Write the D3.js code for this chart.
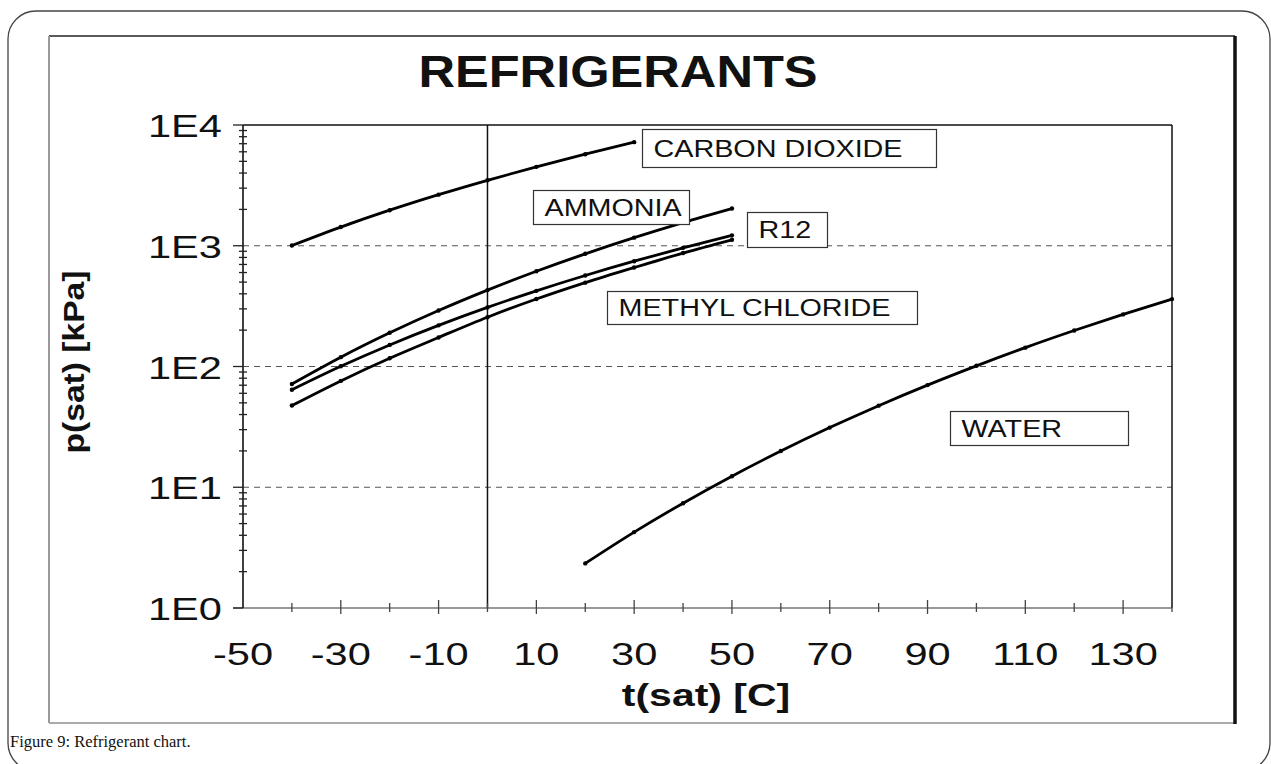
<html>
<head>
<style>
  body { margin: 0; background: white; }
  svg { display: block; }
  text { font-family: "Liberation Sans", Arial, Helvetica, sans-serif; fill: #111; }
</style>
<script src="https://cdn.jsdelivr.net/npm/d3@7"></script>
</head>
<body>
<svg id="chart" width="1271" height="764"></svg>
<script>
// saturation pressure, kPa
const refrigT = [-40, -30, -20, -10, 0, 10, 20, 30, 40, 50]
const ammonia = [71.7, 119.5, 190.2, 290.9, 429.4, 615.2, 857.5, 1167, 1555, 2033]
const r12 = [64.2, 100.4, 150.9, 219.1, 308.6, 423.3, 567.3, 744.9, 960.7, 1219]
const methylChloride = [47.5, 76, 117, 174, 256, 362, 495, 660, 870, 1120]
const co2T = [-40, -30, -20, -10, 0, 10, 20, 30]
const co2 = [1005, 1428, 1970, 2649, 3485, 4502, 5729, 7214]
const waterT = [20, 30, 40, 50, 60, 70, 80, 90, 100, 110, 120, 130, 140]
const water = [2.34, 4.25, 7.38, 12.35, 19.94, 31.19, 47.39, 70.14, 101.3, 143.3, 198.5, 270.1, 361.5]

const xTickLabels = [-50, -30, -10, 10, 30, 50, 70, 90, 110, 130]
const yTickLabels = ["1E0", "1E1", "1E2", "1E3", "1E4"]
const yDecades = [1, 10, 100, 1000, 10000]

const labelNames = ["CARBON DIOXIDE", "AMMONIA", "R12", "METHYL CHLORIDE", "WATER"]

let svg = d3.select("#chart")

// page frame
svg.append("rect")
  .attr("x", 8).attr("y", 11).attr("width", 1262).attr("height", 760)
  .attr("rx", 28).attr("fill", "none").attr("stroke", "#444").attr("stroke-width", 1.3)

// figure box with shadow edges
let bx0 = 49, by0 = 36, bx1 = 1235, by1 = 723
svg.append("rect").attr("x", bx0).attr("y", by0).attr("width", bx1 - bx0).attr("height", by1 - by0)
  .attr("fill", "white").attr("stroke", "none")
svg.append("line").attr("x1", bx0).attr("y1", by0).attr("x2", bx1).attr("y2", by0).attr("stroke", "#222").attr("stroke-width", 1.3)
svg.append("line").attr("x1", bx0).attr("y1", by0).attr("x2", bx0).attr("y2", by1).attr("stroke", "#999").attr("stroke-width", 2)
svg.append("line").attr("x1", bx0).attr("y1", by1).attr("x2", bx1).attr("y2", by1).attr("stroke", "#aaa").attr("stroke-width", 2)
svg.append("line").attr("x1", bx1).attr("y1", by0).attr("x2", bx1).attr("y2", by1 + 1).attr("stroke", "#111").attr("stroke-width", 3.5)

svg.append("text")
  .attr("transform", "translate(10,747)")
  .style("font-family", "'Liberation Serif', 'DejaVu Serif', serif")
  .style("font-size", "16.5px")
  .text("Figure 9: Refrigerant chart.")

// plot area
let pLeft = 243, pRight = 1172, pTop = 125, pBottom = 608

let x = d3.scaleLinear().domain([-50, 140]).range([pLeft, pRight])
let y = d3.scaleLog().domain([1, 10000]).range([pBottom, pTop])

function sText(g, tx, ty, sx, anchor) {
  return g.append("text")
    .attr("transform", `translate(${tx},${ty}) scale(${sx},1)`)
    .attr("text-anchor", anchor)
}

// title
sText(svg, 618, 87, 1.15, "middle")
  .style("font-size", "44px").style("font-weight", "bold")
  .text("REFRIGERANTS")

// grid lines
svg.selectAll(".grid").data(yDecades.slice(1, 4)).enter().append("line")
  .attr("x1", pLeft).attr("x2", pRight)
  .attr("y1", d => y(d)).attr("y2", d => y(d))
  .attr("stroke", "#555").attr("stroke-width", 1.1).attr("stroke-dasharray", "6,5")

// frame lines of the plot
svg.append("line").attr("x1", pLeft).attr("x2", pRight).attr("y1", pTop).attr("y2", pTop).attr("stroke", "#111").attr("stroke-width", 1.5)
svg.append("line").attr("x1", pRight).attr("x2", pRight).attr("y1", pTop).attr("y2", pBottom).attr("stroke", "#111").attr("stroke-width", 1.5)
svg.append("line").attr("x1", x(0)).attr("x2", x(0)).attr("y1", pTop).attr("y2", pBottom).attr("stroke", "#111").attr("stroke-width", 1.5)
svg.append("line").attr("x1", pLeft - 10).attr("x2", pRight).attr("y1", pBottom).attr("y2", pBottom).attr("stroke", "#777").attr("stroke-width", 1.5)
svg.append("line").attr("x1", pLeft).attr("x2", pLeft).attr("y1", pTop).attr("y2", pBottom).attr("stroke", "#111").attr("stroke-width", 1.6)

// y ticks
let minorY = []
for (let d of yDecades.slice(0, 4)) for (let m = 2; m <= 9; m++) minorY.push(d * m)
svg.selectAll(".ymin").data(minorY).enter().append("line")
  .attr("x1", pLeft - 4).attr("x2", pLeft + 4)
  .attr("y1", d => y(d)).attr("y2", d => y(d))
  .attr("stroke", "#222").attr("stroke-width", 1.3)
svg.selectAll(".ymaj").data(yDecades).enter().append("line")
  .attr("x1", pLeft - 10).attr("x2", pLeft)
  .attr("y1", d => y(d)).attr("y2", d => y(d))
  .attr("stroke", "#222").attr("stroke-width", 1.3)
yDecades.forEach((d, i) => {
  sText(svg, 222, y(d) + 12, 1.3, "end").style("font-size", "32px").text(yTickLabels[i])
})

// x ticks
let minorX = d3.range(-40, 141, 20)
svg.selectAll(".xmin").data(minorX).enter().append("line")
  .attr("x1", d => x(d)).attr("x2", d => x(d))
  .attr("y1", pBottom - 5).attr("y2", pBottom + 4)
  .attr("stroke", "#444").attr("stroke-width", 1.3)
svg.selectAll(".xmaj").data(xTickLabels.slice(1)).enter().append("line")
  .attr("x1", d => x(d)).attr("x2", d => x(d))
  .attr("y1", pBottom - 8).attr("y2", pBottom + 6)
  .attr("stroke", "#444").attr("stroke-width", 1.3)
xTickLabels.forEach(d => {
  sText(svg, x(d), 665, 1.3, "middle").style("font-size", "32px").text(d)
})

// axis titles
sText(svg, 706, 706, 1.28, "middle")
  .style("font-size", "32px").style("font-weight", "bold")
  .text("t(sat) [C]")
svg.append("text")
  .attr("transform", "translate(84,362) rotate(-90) scale(1.12,1)")
  .attr("text-anchor", "middle")
  .style("font-size", "30px").style("font-weight", "bold")
  .text("p(sat) [kPa]")

// curves
let series = [
  { t: co2T, p: co2 },
  { t: refrigT, p: ammonia },
  { t: refrigT, p: r12 },
  { t: refrigT, p: methylChloride },
  { t: waterT, p: water }
]
let line = d3.line().x(d => x(d[0])).y(d => y(d[1])).curve(d3.curveMonotoneX)
series.forEach(s => {
  let pts = s.t.map((t, i) => [t, s.p[i]])
  svg.append("path").attr("d", line(pts))
    .attr("fill", "none").attr("stroke", "#000").attr("stroke-width", 2.8)
  svg.selectAll(null).data(pts).enter().append("circle")
    .attr("cx", d => x(d[0])).attr("cy", d => y(d[1])).attr("r", 2.2).attr("fill", "#000")
})

// label boxes, anchored at the top-left corner in data units
let labelT = [31.6, 9.3, 53.1, 24.4, 94.6]
let labelP = [9300, 2870, 1920, 420, 43]
let boxW = [294, 156, 80, 310, 178]
let boxH = [38, 34, 35, 33, 34]
labelNames.forEach((name, i) => {
  let bx = Math.round(x(labelT[i])) + 0.5, by = Math.round(y(labelP[i])) + 0.5
  svg.append("rect").attr("x", bx).attr("y", by).attr("width", boxW[i]).attr("height", boxH[i])
    .attr("fill", "white").attr("stroke", "#333").attr("stroke-width", 1.2)
  sText(svg, bx + 11, by + boxH[i] / 2 + 8, 1.25, "start").style("font-size", "23px").text(name)
})
</script>
</body>
</html>
